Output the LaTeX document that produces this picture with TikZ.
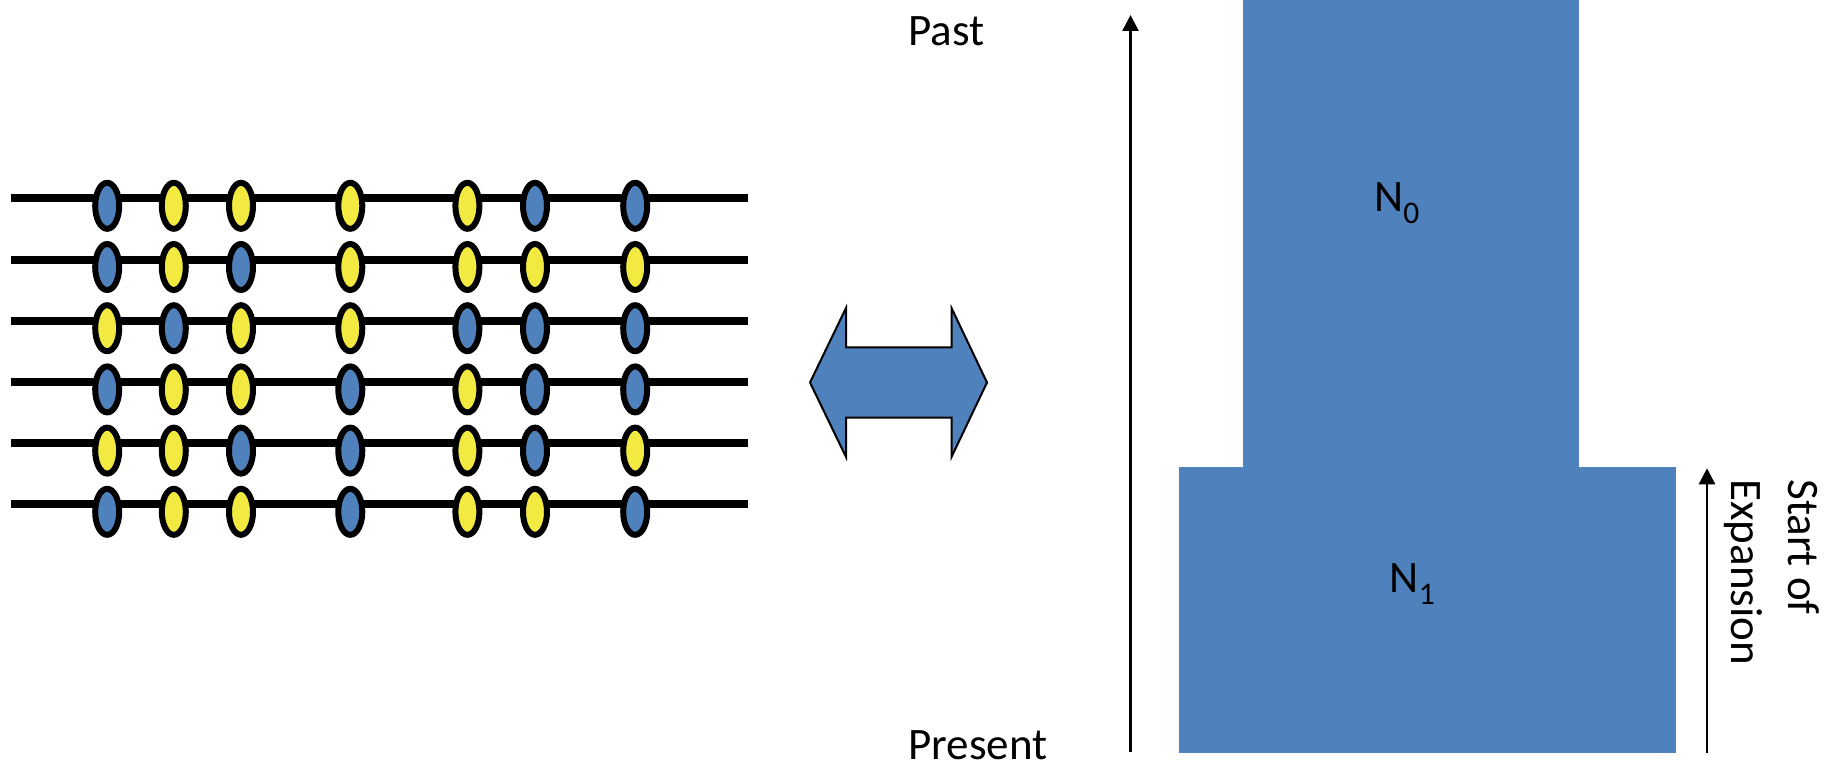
\documentclass[tikz,border=0pt]{standalone}
\usepackage{fontspec}
\setmainfont{Carlito}
\usetikzlibrary{arrows.meta}
\definecolor{blu}{RGB}{79,129,189}
\definecolor{yel}{RGB}{242,234,65}

\begin{document}
\begin{tikzpicture}[x=0.5pt,y=-0.5pt,
  chrom/.style={line width=4pt},
  allele/.style={line width=3pt, draw=black},
  popbox/.style={fill=blu, draw=none},
  lbl/.style={inner sep=0pt, font=\fontsize{22.5}{27}\selectfont},
  timeline/.style={line width=1.3pt, -{Triangle[length=8pt,width=8pt]}},
  bothways/.style={fill=blu, draw=black, line width=1pt, line join=miter}]

\useasboundingbox (0,0) rectangle (1835,765);

% haplotypes: six chromosomes with seven segregating sites each
\foreach \row [count=\r from 0] in {
  {blu,yel,yel,yel,yel,blu,blu},
  {blu,yel,blu,yel,yel,yel,yel},
  {yel,blu,yel,yel,blu,blu,blu},
  {blu,yel,yel,blu,yel,blu,blu},
  {yel,yel,blu,blu,yel,blu,yel},
  {blu,yel,yel,blu,yel,yel,blu}} {
  \pgfmathsetmacro\yy{198.3+61.2*\r}
  \draw[chrom] (11,\yy) -- (748,\yy);
  \foreach \c [count=\i from 0] in \row {
    \pgfmathsetmacro\xx{{107.2,173.8,241,350.3,467.4,535,635.2}[\i]}
    \filldraw[allele, fill=\c] (\xx,\yy+7.5) ellipse [x radius=6pt, y radius=11.5pt];
  }
}

% double-headed block arrow
\filldraw[bothways] (810,382.5) -- (846,308) -- (846,347.3) -- (951.5,347.3)
  -- (951.5,308) -- (987,382.5) -- (951.5,457) -- (951.5,417.7)
  -- (846,417.7) -- (846,457) -- cycle;

% population size history
\fill[popbox] (1242.8,0) rectangle (1578.7,468);
\fill[popbox] (1178.5,467) rectangle (1675.9,752.5);
\node[lbl, anchor=base west] (n0) at (1374,211.7)
  {N\raisebox{-5.75pt}{\fontsize{15.75}{18}\selectfont 0}};
\node[lbl, anchor=base west] (n1) at (1389.5,592.7)
  {N\raisebox{-6pt}{\fontsize{15.75}{18}\selectfont 1}};

% time axis
\coordinate (tnow) at (1130.5,752);
\coordinate (tpast) at (1130.5,15);
\draw[timeline] (tnow) -- (tpast);
\node[lbl, anchor=base west] (past) at (908,45.7) {Past};
\node[lbl, anchor=base west] (present) at (908,759) {Present};

% onset of the expansion
\coordinate (ebot) at (1707,752.7);
\coordinate (etop) at (1707,468.3);
\draw[timeline] (ebot) -- (etop);
\node[lbl, anchor=base west, rotate=-90] (start) at (1788,479) {Start of};
\node[lbl, anchor=base west, rotate=-90] (expansion) at (1731,479) {Expansion};

\end{tikzpicture}
\end{document}
